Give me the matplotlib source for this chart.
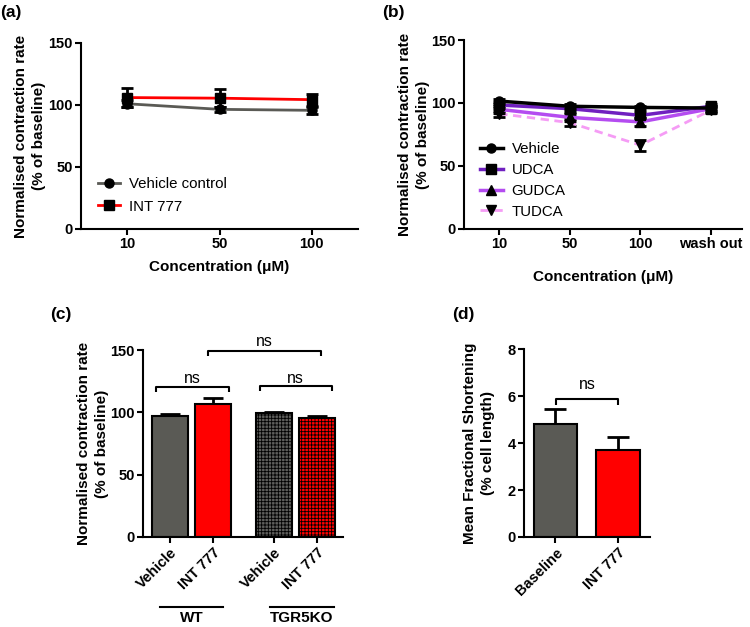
import matplotlib
matplotlib.use("Agg")
import matplotlib.pyplot as plt
import matplotlib.transforms as mtransforms
from matplotlib.lines import Line2D
import numpy as np

plt.rcParams['font.family'] = ['Liberation Sans', 'DejaVu Sans']
plt.rcParams['hatch.linewidth'] = 0.6
plt.rcParams['axes.linewidth'] = 1.5

# ---------------- data ----------------
# (a)
a_conc = ["10", "50", "100"]
a_vehicle = [101.0, 96.5, 95.7]
a_vehicle_err = [3.0, 2.0, 3.0]
a_int777 = [106.0, 105.5, 104.3]
a_int777_err = [7.5, 7.0, 4.8]

# (b)
b_conc = ["10", "50", "100", "wash out"]
b_vehicle = [101.5, 97.4, 96.5, 96.0]
b_vehicle_err = [2.0, 2.0, 1.5, 2.0]
b_udca = [98.4, 95.5, 90.2, 97.4]
b_udca_err = [2.5, 2.5, 2.5, 2.0]
b_gudca = [95.0, 88.6, 85.0, 95.5]
b_gudca_err = [3.0, 3.0, 3.0, 2.5]
b_tudca = [91.5, 84.4, 66.5, 94.4]
b_tudca_err = [2.5, 3.0, 4.5, 2.5]

# (c)
c_labels = ["Vehicle", "INT 777", "Vehicle", "INT 777"]
c_values = [97.0, 106.4, 99.4, 95.6]
c_err = [2.0, 4.8, 1.2, 1.8]
c_groups = ["WT", "TGR5KO"]

# (d)
d_labels = ["Baseline", "INT 777"]
d_values = [4.80, 3.70]
d_err = [0.64, 0.56]

GRAY = '#5a5a55'
RED = '#ff0000'
UDCA_C = '#7020c0'
GUDCA_C = '#b44cf0'
TUDCA_C = '#f59cf5'

W, H = 750, 627
fig = plt.figure(figsize=(W / 100, H / 100), dpi=100)

TICKFS = 10.5
LABFS = 11
LEGFS = 10.8
NSFS = 11.5
PANFS = 12.5


def ax_px(left, right, top, bottom):
    return fig.add_axes([left / W, 1 - bottom / H, (right - left) / W, (bottom - top) / H])


def style(ax):
    ax.spines['top'].set_visible(False)
    ax.spines['right'].set_visible(False)
    ax.tick_params(width=1.5, length=4.5, labelsize=TICKFS, pad=1.5)
    for lab in ax.get_xticklabels() + ax.get_yticklabels():
        lab.set_fontweight('bold')


def ylab(ax, text, xfrac):
    ax.set_ylabel(text, fontsize=LABFS, fontweight='bold', linespacing=1.35)
    ax.yaxis.set_label_coords(xfrac, 0.5)


# ---------------- (a) ----------------
ax = ax_px(81, 358, 43, 229)
xa = np.arange(len(a_conc))
eb = dict(ms=6.5, mfc='black', mec='black', ecolor='black', elinewidth=2, capsize=4.5, capthick=2)
ax.errorbar(xa, a_vehicle, yerr=a_vehicle_err, color=GRAY, lw=2, marker='o', zorder=3, **eb)
ax.errorbar(xa, a_int777, yerr=a_int777_err, color=RED, lw=2, marker='s', zorder=4, **eb)
ax.set_xlim(-0.5, 2.5)
ax.set_ylim(0, 150)
ax.set_yticks([0, 50, 100, 150])
ax.set_xticks(xa)
ax.set_xticklabels(a_conc)
style(ax)
ylab(ax, 'Normalised contraction rate\n(% of baseline)', -0.128)
ax.set_xlabel('Concentration (\u03bcM)', fontsize=LABFS, fontweight='bold', va='top')
ax.xaxis.set_label_coords(0.5, -0.168)
ha_ = [Line2D([], [], color=GRAY, lw=2, marker='o', ms=6.5, mfc='black', mec='black'),
       Line2D([], [], color=RED, lw=2, marker='s', ms=6.5, mfc='black', mec='black')]
ax.legend(ha_, ['Vehicle control', 'INT 777'], loc='center left', bbox_to_anchor=(0.061, 0.18),
          frameon=False, fontsize=LEGFS, borderpad=0, borderaxespad=0, handlelength=1.5,
          handletextpad=0.6, labelspacing=0.55)
fig.text(0 / W, 1 - 13 / H, '(a)', fontsize=PANFS, fontweight='bold', va='center', ha='left')

# ---------------- (b) ----------------
ax = ax_px(464, 742, 40, 229)
xb = np.arange(len(b_conc))
ax.errorbar(xb, b_tudca, yerr=b_tudca_err, color=TUDCA_C, lw=2, ls=(0, (3, 2)), marker='v',
            zorder=3, **eb)
ax.errorbar(xb, b_gudca, yerr=b_gudca_err, color=GUDCA_C, lw=2.5, marker='^', zorder=4, **eb)
ax.errorbar(xb, b_udca, yerr=b_udca_err, color=UDCA_C, lw=2.5, marker='s', zorder=5, **eb)
ax.errorbar(xb, b_vehicle, yerr=b_vehicle_err, color='black', lw=2.5, marker='o', zorder=6, **eb)
ax.set_xlim(-0.5, 3.44)
ax.set_ylim(0, 150)
ax.set_yticks([0, 50, 100, 150])
ax.set_xticks(xb)
ax.set_xticklabels(b_conc)
style(ax)
ylab(ax, 'Normalised contraction rate\n(% of baseline)', -0.122)
ax.set_xlabel('Concentration (\u03bcM)', fontsize=LABFS, fontweight='bold', va='top')
ax.xaxis.set_label_coords(0.5, -0.215)
hb = [Line2D([], [], color='black', lw=2.5, marker='o', ms=6.5, mfc='black', mec='black'),
      Line2D([], [], color=UDCA_C, lw=2.5, marker='s', ms=6.5, mfc='black', mec='black'),
      Line2D([], [], color=GUDCA_C, lw=2.5, marker='^', ms=6.5, mfc='black', mec='black'),
      Line2D([], [], color=TUDCA_C, lw=2, ls=(0, (3, 2)), marker='v', ms=6.5, mfc='black',
             mec='black')]
ax.legend(hb, ['Vehicle', 'UDCA', 'GUDCA', 'TUDCA'], loc='center left',
          bbox_to_anchor=(0.058, 0.257), frameon=False, fontsize=LEGFS, borderpad=0,
          borderaxespad=0, handlelength=1.5, handletextpad=0.6, labelspacing=0.45)
fig.text(382 / W, 1 - 13 / H, '(b)', fontsize=PANFS, fontweight='bold', va='center', ha='left')

# ---------------- (c) ----------------
ax = ax_px(143, 343, 350, 537)
xc = np.array([0, 1, 2.4, 3.4])
faces = [GRAY, RED, '#5e5e5c', RED]
hatches = [None, None, '+++++', '+++++']
for xi, v, e, fc, ht in zip(xc, c_values, c_err, faces, hatches):
    ax.bar(xi, v, width=0.83, color=fc, edgecolor='black', linewidth=1.5, hatch=ht, zorder=2)
    ax.errorbar(xi, v, yerr=[[0], [e]], fmt='none', ecolor='black', elinewidth=2,
                capsize=7, capthick=2, zorder=1)
ax.set_xlim(-0.63, 4.0)
ax.set_ylim(0, 150)
ax.set_yticks([0, 50, 100, 150])
ax.set_xticks(xc)
ax.set_xticklabels(c_labels, rotation=45, ha='right', rotation_mode='anchor')
style(ax)
ylab(ax, 'Normalised contraction rate\n(% of baseline)', -0.17)


def bracket(ax, x0, x1, y, drop, txt, ty):
    ax.plot([x0, x0, x1, x1], [y - drop, y, y, y - drop], color='black', lw=1.5,
            clip_on=False, solid_capstyle='butt')
    ax.text((x0 + x1) / 2, ty, txt, ha='center', va='center', fontsize=NSFS, clip_on=False)


bracket(ax, -0.33, 1.35, 120.5, 4, 'ns', 127)
bracket(ax, 2.07, 3.74, 121, 4, 'ns', 127.5)
bracket(ax, 0.88, 3.49, 149, 3.5, 'ns', 156.5)

tr = mtransforms.blended_transform_factory(ax.transData, ax.transAxes)
for (x0, x1), g in zip([(-0.23, 1.23), (2.3, 3.79)], c_groups):
    ax.plot([x0, x1], [-0.374, -0.374], color='black', lw=1.5, transform=tr, clip_on=False)
    ax.text((x0 + x1) / 2, -0.435, g, transform=tr, ha='center', va='center',
            fontsize=LABFS, fontweight='bold')
fig.text(50 / W, 1 - 315 / H, '(c)', fontsize=PANFS, fontweight='bold', va='center', ha='left')

# ---------------- (d) ----------------
ax = ax_px(524, 650, 349, 537)
xd = np.arange(len(d_labels))
for xi, v, e, fc in zip(xd, d_values, d_err, [GRAY, RED]):
    ax.bar(xi, v, width=0.69, color=fc, edgecolor='black', linewidth=1.5, zorder=2)
    ax.errorbar(xi, v, yerr=[[0], [e]], fmt='none', ecolor='black', elinewidth=2,
                capsize=8, capthick=2, zorder=1)
ax.set_xlim(-0.5, 1.51)
ax.set_ylim(0, 8)
ax.set_yticks([0, 2, 4, 6, 8])
ax.set_xticks(xd)
ax.set_xticklabels(d_labels, rotation=45, ha='right', rotation_mode='anchor')
style(ax)
ylab(ax, 'Mean Fractional Shortening\n(% cell length)', -0.23)
bracket(ax, 0.01, 1.0, 5.88, 0.26, 'ns', 6.5)
fig.text(452 / W, 1 - 315 / H, '(d)', fontsize=PANFS, fontweight='bold', va='center', ha='left')

fig.savefig('out.png', dpi=100)
